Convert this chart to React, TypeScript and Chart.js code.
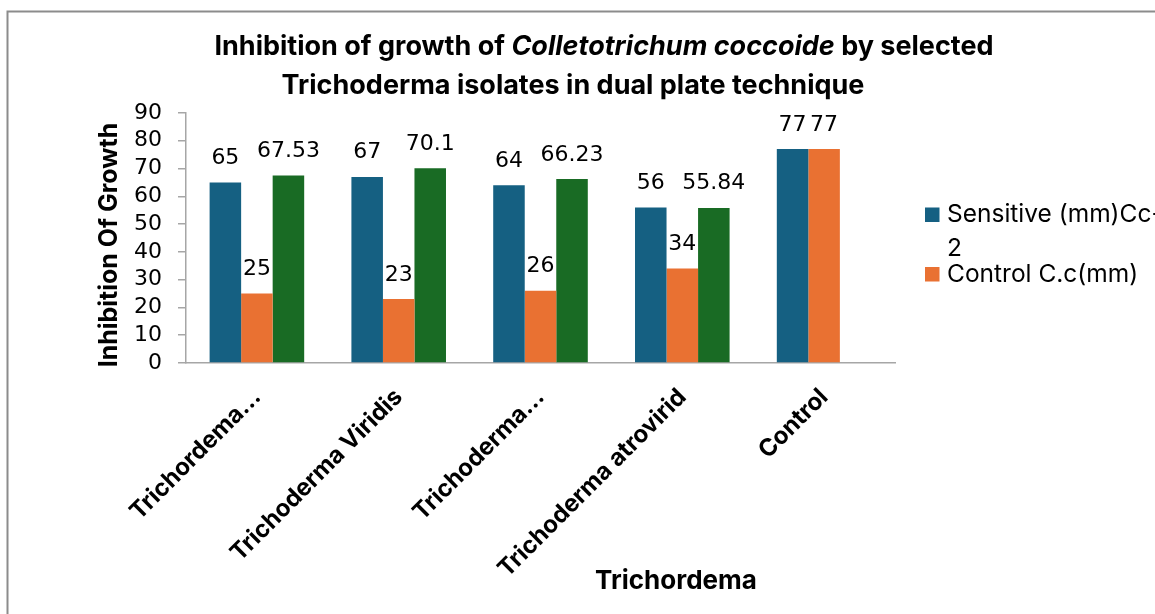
import React, { useEffect, useRef } from "react";
import { Chart, registerables } from "chart.js";

Chart.register(...registerables);

// ---------- data ----------
const categories = [
  "Trichordema…",
  "Trichoderma Viridis",
  "Trichoderma…",
  "Trichoderma atrovirid",
  "Control",
];
const sensitiveValues = [65, 67, 64, 56, 77];
const controlValues = [25, 23, 26, 34, 77];
const inhibitionValues: (number | null)[] = [67.53, 70.1, 66.23, 55.84, null];
const seriesNames = ["Sensitive (mm)Cc-2", "Control C.c(mm)", "Inhibition (%)"];
const legendSeries = [0, 1];
const yMin = 0;
const yMax = 90;
const yStep = 10;
const titleLine1 = [
  { text: "Inhibition of growth of ", italic: false },
  { text: "Colletotrichum coccoide", italic: true },
  { text: " by selected", italic: false },
];
const titleLine2 = "Trichoderma isolates in dual plate technique";
const xTitle = "Trichordema";
const yTitle = "Inhibition Of Growth";

// ---------- styles ----------
const FONT = "Inter, 'Noto Sans', sans-serif";
const NUM_FONT = "'DejaVu Sans', Inter, sans-serif";
const COLORS = ["#156082", "#E97132", "#196B24"];
const AXIS_GRAY = "#a6a6a6";

const decorPlugin = {
  id: "decor",
  afterDraw(chart: any) {
    const ctx: CanvasRenderingContext2D = chart.ctx;
    ctx.save();
    // outer border
    ctx.strokeStyle = "#8c8c8c";
    ctx.lineWidth = 2;
    ctx.strokeRect(7.5, 11.5, 1300, 800);

    ctx.fillStyle = "#000";
    // title line 1 (mixed italic)
    const tSize = 27;
    const fontFor = (it: boolean) =>
      `${it ? "italic " : ""}bold ${tSize}px ${FONT}`;
    let total = 0;
    for (const r of titleLine1) {
      ctx.font = fontFor(r.italic);
      total += ctx.measureText(r.text).width;
    }
    let x = 604 - total / 2;
    ctx.textBaseline = "alphabetic";
    ctx.textAlign = "left";
    for (const r of titleLine1) {
      ctx.font = fontFor(r.italic);
      ctx.fillText(r.text, x, 55);
      x += ctx.measureText(r.text).width;
    }
    ctx.font = fontFor(false);
    ctx.textAlign = "center";
    ctx.fillText(titleLine2, 573, 94);

    // x axis title
    ctx.font = `bold 26px ${FONT}`;
    ctx.fillText(xTitle, 676, 589);

    // y axis title
    ctx.save();
    ctx.translate(109, 245);
    ctx.rotate(-Math.PI / 2);
    ctx.font = `bold 25px ${FONT}`;
    ctx.textBaseline = "middle";
    ctx.fillText(yTitle, 0, 0);
    ctx.restore();

    // legend (labels wrap only after hyphens)
    ctx.font = `24.5px ${FONT}`;
    ctx.textAlign = "left";
    ctx.textBaseline = "alphabetic";
    const maxW = 212;
    let baseline = 222;
    for (const si of legendSeries) {
      const label = chart.data.datasets[si].label as string;
      const tokens = label.match(/[^-]+-?/g) || [label];
      const lines: string[] = [];
      let cur = "";
      for (const tk of tokens) {
        const trial = cur + tk;
        if (cur && ctx.measureText(trial).width > maxW) {
          lines.push(cur);
          cur = tk;
        } else cur = trial;
      }
      if (cur) lines.push(cur);
      ctx.fillStyle = COLORS[si];
      ctx.fillRect(925, baseline - 14.5, 14.5, 14.5);
      ctx.fillStyle = "#000";
      lines.forEach((ln, i) => {
        ctx.fillText(ln, 947, baseline + i * 33.5);
      });
      baseline += (lines.length - 1) * 33.5 + 26;
    }
    ctx.restore();
  },
  afterDatasetsDraw(chart: any) {
    const ctx: CanvasRenderingContext2D = chart.ctx;
    ctx.save();
    ctx.font = `22px ${NUM_FONT}`;
    ctx.fillStyle = "#000";
    ctx.textAlign = "center";
    ctx.textBaseline = "alphabetic";
    chart.data.datasets.forEach((ds: any, di: number) => {
      const meta = chart.getDatasetMeta(di);
      meta.data.forEach((el: any, i: number) => {
        const v = ds.data[i];
        if (v === null || v === undefined) return;
        ctx.fillText(String(v), el.x, el.y - 18.5);
      });
    });
    ctx.restore();
  },
};

export default function App() {
  const ref = useRef<HTMLCanvasElement | null>(null);
  useEffect(() => {
    if (!ref.current) return;
    const chart = new Chart(ref.current, {
      type: "bar",
      data: {
        labels: categories,
        datasets: [
          { label: seriesNames[0], data: sensitiveValues, backgroundColor: COLORS[0] },
          { label: seriesNames[1], data: controlValues, backgroundColor: COLORS[1] },
          { label: seriesNames[2], data: inhibitionValues, backgroundColor: COLORS[2] },
        ],
      },
      options: {
        responsive: false,
        animation: false,
        categoryPercentage: 0.667,
        barPercentage: 1,
        layout: { padding: { left: 0, top: 113, right: 260, bottom: 0 } },
        plugins: {
          legend: { display: false },
          title: { display: false },
          tooltip: { enabled: false },
        },
        scales: {
          x: {
            grid: { display: false, drawTicks: false },
            border: { display: true, color: AXIS_GRAY, width: 1.5 },
            ticks: {
              autoSkip: false,
              maxRotation: 45,
              minRotation: 45,
              color: "#000",
              padding: 20,
              font: { family: FONT, size: 24, weight: "bold" },
            },
            afterFit: (s: any) => {
              s.height = 251;
            },
          },
          y: {
            min: yMin,
            max: yMax,
            ticks: {
              stepSize: yStep,
              autoSkip: false,
              color: "#000",
              padding: 16,
              font: { family: NUM_FONT, size: 22 },
            },
            grid: {
              display: true,
              drawOnChartArea: false,
              drawTicks: true,
              tickLength: 8,
              color: AXIS_GRAY,
              lineWidth: 1.5,
            },
            border: { display: true, color: AXIS_GRAY, width: 1.5 },
            afterFit: (s: any) => {
              s.width = 186;
            },
          },
        },
      } as any,
      plugins: [decorPlugin],
    });
    return () => chart.destroy();
  }, []);
  return (
    <div style={{ position: "absolute", left: 0, top: 0, width: 1155, height: 614, background: "#fff" }}>
      <canvas ref={ref} width={1155} height={614} style={{ width: 1155, height: 614, display: "block" }} />
    </div>
  );
}
